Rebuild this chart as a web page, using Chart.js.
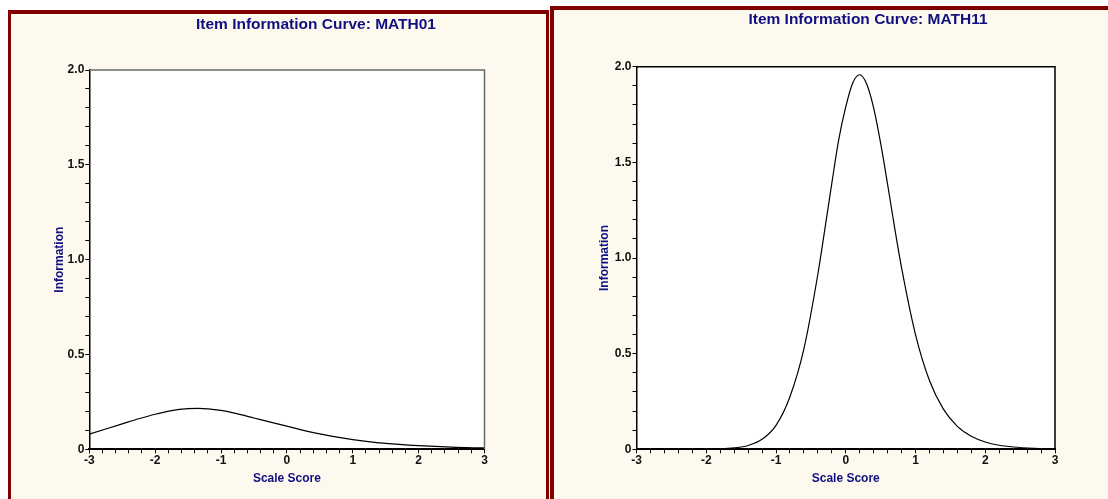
<!DOCTYPE html>
<html lang="en">
<head>
  <meta charset="UTF-8">
  <title>Item Information Curves</title>
  <script src="https://cdn.jsdelivr.net/npm/chart.js"></script>
  <style>
    body { margin: 0; background: #fff; width: 1108px; height: 499px; overflow: hidden; position: relative; font-family: "Liberation Sans", Arial, sans-serif; }
    .panel { position: absolute; background: #fdf9ef; border: 3px solid #800000; border-top-width: 4px; box-sizing: content-box; }
    #p1 { left: 8px; top: 10px; width: 535px; height: 520px; }
    #p2 { left: 550px; top: 6px; width: 554px; height: 520px; border-width: 4px; }
    .panel canvas { position: absolute; left: 0; top: 0; }
    .title { position: absolute; width: 400px; text-align: center; font-weight: bold; font-size: 15.5px; line-height: 16px; color: #101080; white-space: nowrap; }
  </style>
</head>
<body>
  <div class="panel" id="p1"><canvas id="c1" width="535" height="520"></canvas></div>
  <div class="panel" id="p2"><canvas id="c2" width="554" height="520"></canvas></div>
  <div class="title" style="left:116px; top:16px;">Item Information Curve: MATH01</div>
  <div class="title" style="left:668px; top:11px;">Item Information Curve: MATH11</div>

  <script>
    // values
    const thetaLeft = [-3, -2.75, -2.5, -2.25, -2, -1.75, -1.5, -1.35, -1, -0.75, -0.5, -0.25, 0, 0.25, 0.5, 1, 1.5, 2, 2.5, 3];
    const infoLeft  = [0.080, 0.107, 0.134, 0.161, 0.185, 0.204, 0.214, 0.216, 0.205, 0.187, 0.165, 0.143, 0.122, 0.100, 0.081, 0.051, 0.031, 0.019, 0.011, 0.007];

    const thetaRight = [-3, -2.5, -2, -1.8, -1.6, -1.4, -1.2, -1, -0.8, -0.6, -0.4, -0.3, -0.2, -0.1, 0, 0.1, 0.2, 0.3, 0.4, 0.5, 0.6, 0.7, 0.8, 1, 1.2, 1.4, 1.6, 1.8, 2, 2.2, 2.4, 2.7, 3];
    const infoRight  = [0, 0, 0.001, 0.002, 0.007, 0.020, 0.052, 0.125, 0.275, 0.525, 0.915, 1.15, 1.39, 1.62, 1.79, 1.915, 1.958, 1.91, 1.785, 1.60, 1.385, 1.16, 0.95, 0.60, 0.36, 0.21, 0.12, 0.068, 0.038, 0.021, 0.012, 0.005, 0.002];

    const xLabelValues = [-3, -2, -1, 0, 1, 2, 3];
    const xLabelText   = ['-3', '-2', '-1', '0', '1', '2', '3'];
    const yLabelValues = [0, 0.5, 1, 1.5, 2];
    const yLabelText   = ['0', '0.5', '1.0', '1.5', '2.0'];

    const NAVY = '#101080';

    function labelFor(v, values, texts) {
      for (let i = 0; i < values.length; i++) {
        if (Math.abs(v - values[i]) < 1e-6) return texts[i];
      }
      return '';
    }

    // white plot area + grey/black top and right edges
    const framePlugin = {
      id: 'frame',
      beforeDraw(chart) {
        const { ctx, chartArea: a } = chart;
        ctx.save();
        ctx.fillStyle = '#ffffff';
        ctx.fillRect(a.left, a.top, a.right - a.left, a.bottom - a.top);
        ctx.restore();
      },
      afterDraw(chart, args, opts) {
        const { ctx, chartArea: a } = chart;
        ctx.save();
        ctx.strokeStyle = opts.color;
        ctx.lineWidth = 1.5;
        ctx.beginPath();
        ctx.moveTo(a.left, a.top);
        ctx.lineTo(a.right, a.top);
        ctx.lineTo(a.right, a.bottom);
        ctx.stroke();
        ctx.restore();
      }
    };

    function makeChart(id, xs, ys, lay) {
      const ctx = document.getElementById(id).getContext('2d');
      return new Chart(ctx, {
        type: 'line',
        data: {
          datasets: [{
            data: xs.map((x, i) => ({ x: x, y: ys[i] })),
            borderColor: '#000',
            borderWidth: 1.2,
            pointRadius: 0,
            fill: false,
            cubicInterpolationMode: 'monotone'
          }]
        },
        options: {
          responsive: false,
          animation: false,
          layout: { padding: lay.padding },
          plugins: {
            legend: { display: false },
            tooltip: { enabled: false },
            frame: { color: lay.frameColor }
          },
          scales: {
            x: {
              type: 'linear', min: -3, max: 3,
              afterFit(s) { s.height = 41; },
              border: { color: '#000', width: 2 },
              grid: { drawOnChartArea: false, drawTicks: true, tickLength: 4, color: '#000' },
              ticks: {
                stepSize: 0.2, autoSkip: false, maxRotation: 0, padding: 0,
                color: '#111', font: { family: 'Liberation Sans, Arial', size: 12, weight: 'bold' },
                callback: v => labelFor(v, xLabelValues, xLabelText)
              },
              title: {
                display: true, text: 'Scale Score', color: NAVY,
                font: { family: 'Liberation Sans, Arial', size: 12, weight: 'bold' },
                padding: { top: 0, bottom: 4 }
              }
            },
            y: {
              type: 'linear', min: 0, max: 2,
              afterFit(s) { s.width = lay.yWidth; },
              border: { color: '#000', width: 1.5 },
              grid: { drawOnChartArea: false, drawTicks: true, tickLength: 4, color: '#000' },
              ticks: {
                stepSize: 0.1, autoSkip: false, padding: 1,
                color: '#111', font: { family: 'Liberation Sans, Arial', size: 12, weight: 'bold' },
                callback: v => labelFor(v, yLabelValues, yLabelText)
              },
              title: {
                display: true, text: 'Information', color: NAVY,
                font: { family: 'Liberation Sans, Arial', size: 12, weight: 'bold' },
                padding: { top: 0, bottom: 0 }
              }
            }
          }
        },
        plugins: [framePlugin]
      });
    }

    makeChart('c1', thetaLeft, infoLeft, {
      padding: { left: 41.8, right: 61.5, top: 56, bottom: 43.7 },
      yWidth: 36.5,
      frameColor: '#6a6a6a'
    });
    makeChart('c2', thetaRight, infoRight, {
      padding: { left: 43.8, right: 53, top: 56.7, bottom: 39.7 },
      yWidth: 38.7,
      frameColor: '#000'
    });
  </script>
</body>
</html>
